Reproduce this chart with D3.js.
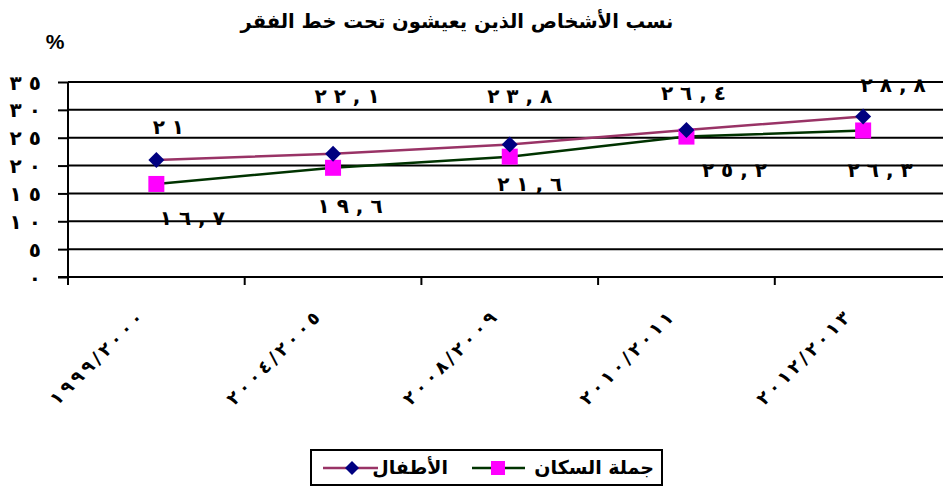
<!DOCTYPE html>
<html>
<head>
<meta charset="utf-8">
<script src="https://cdn.jsdelivr.net/npm/d3@7"></script>
<style>
  html, body { margin: 0; padding: 0; background: #fff; }
  svg { display: block; }
  text { font-family: "DejaVu Sans", sans-serif; font-weight: bold; fill: #000; }
  .num { direction: ltr; unicode-bidi: bidi-override; }
</style>
</head>
<body>
<svg id="chart" width="943" height="487"></svg>
<script>
// ---- data ----
const title = "نسب الأشخاص الذين يعيشون تحت خط الفقر";
const categories = ["1999/2000", "2004/2005", "2008/2009", "2010/2011", "2012/2013"];
const seriesNames = ["الأطفال", "جملة السكان"];
const children = [21, 22.1, 23.8, 26.4, 28.8];
const population = [16.7, 19.6, 21.6, 25.2, 26.3];
const yTicks = [0, 5, 10, 15, 20, 25, 30, 35];

// label nudges (layout only, in px)
const childLabelDx = [12, 14, 10, 7, 30];
const childLabelDy = [-32, -56, -47, -35, -30];
const popLabelDx = [36, 17, 20, 48, 17];
const popLabelDy = [36, 40, 29, 35, 41];

const toArabic = s => String(s).replace(/[0-9]/g, d => "٠١٢٣٤٥٦٧٨٩"[+d]);
const spaced = (s, sep) => Array.from(s).join(sep);
const fmtVal = v => spaced(toArabic(String(v).replace(".", ",")), " ");

(function () {
const svg = d3.select("#chart");
const pLeft = 68, pTop = 82, pBottom = 277, step = 176.7;
const x = d3.scaleBand().domain(categories).range([pLeft, pLeft + step * categories.length]).padding(0);
const y = d3.scaleLinear().domain([0, 35]).range([pBottom, pTop]);
const cx = c => x(c) + x.bandwidth() / 2;

// title & unit
svg.append("text").attr("x", 457).attr("y", 28).attr("text-anchor", "middle")
  .attr("font-size", 19.5).attr("direction", "rtl").text(title);
svg.append("text").attr("x", 55).attr("y", 49).attr("text-anchor", "middle")
  .attr("font-size", 21).style("font-family", "Liberation Sans, Arial, sans-serif").text("%");

// gridlines
svg.append("g").selectAll("line").data(yTicks.filter(t => t > 0)).join("line")
  .attr("x1", pLeft).attr("x2", 943).attr("y1", d => y(d)).attr("y2", d => y(d))
  .attr("stroke", "#000").attr("stroke-width", 2);

// y axis
const yAxis = d3.axisLeft(y).tickValues(yTicks).tickSize(10).tickPadding(17)
  .tickFormat(d => spaced(toArabic(d), " "));
const gy = svg.append("g").attr("transform", `translate(${pLeft},0)`).call(yAxis);
gy.select(".domain").attr("stroke", "#000").attr("stroke-width", 2).attr("d", `M0,${pTop}V${pBottom + 8}`);
gy.selectAll(".tick line").attr("stroke", "#000").attr("stroke-width", 2);
gy.selectAll(".tick text").attr("class", "num").attr("font-size", 20)
  .style("font-family", "DejaVu Sans").style("font-weight", "bold").attr("dy", "0.35em");

// x axis
const xAxis = d3.axisBottom(x).tickSize(8).tickFormat("");
const gx = svg.append("g").attr("transform", `translate(0,${pBottom})`).call(xAxis);
gx.select(".domain").attr("stroke", "#000").attr("stroke-width", 2)
  .attr("d", `M${pLeft - 10},0H943`);
gx.selectAll(".tick").attr("transform", d => `translate(${x(d)},0)`);
gx.selectAll(".tick line").attr("stroke", "#000").attr("stroke-width", 2);

// rotated category labels
svg.append("g").selectAll("text").data(categories).join("text")
  .attr("class", "num")
  .attr("transform", d => `translate(${cx(d) - 12},${pBottom + 42}) rotate(-45)`)
  .attr("text-anchor", "end").attr("font-size", 18)
  .text(d => spaced(toArabic(d), "\u2009"));

// lines
const line = d3.line().x((d, i) => cx(categories[i])).y(d => y(d));
svg.append("path").datum(population).attr("d", line).attr("fill", "none")
  .attr("stroke", "#003300").attr("stroke-width", 2.5);
svg.append("path").datum(children).attr("d", line).attr("fill", "none")
  .attr("stroke", "#993366").attr("stroke-width", 2.5);

// markers
svg.append("g").selectAll("rect").data(population).join("rect")
  .attr("x", (d, i) => cx(categories[i]) - 8).attr("y", d => y(d) - 8)
  .attr("width", 16).attr("height", 16).attr("fill", "#FF00FF");
svg.append("g").selectAll("path").data(children).join("path")
  .attr("d", (d, i) => { const px = cx(categories[i]), py = y(d); return `M${px},${py-8}L${px+8},${py}L${px},${py+8}L${px-8},${py}Z`; })
  .attr("fill", "#000080");

// data labels
svg.append("g").selectAll("text").data(children).join("text")
  .attr("class", "num")
  .attr("x", (d, i) => cx(categories[i]) + childLabelDx[i]).attr("y", (d, i) => y(d) + childLabelDy[i])
  .attr("text-anchor", "middle").attr("dominant-baseline", "middle")
  .attr("font-size", 20).text(d => fmtVal(d));
svg.append("g").selectAll("text").data(population).join("text")
  .attr("class", "num")
  .attr("x", (d, i) => cx(categories[i]) + popLabelDx[i]).attr("y", (d, i) => y(d) + popLabelDy[i])
  .attr("text-anchor", "middle").attr("dominant-baseline", "middle")
  .attr("font-size", 20).text(d => fmtVal(d));

// legend
const lg = svg.append("g");
lg.append("rect").attr("x", 311).attr("y", 450).attr("width", 351).attr("height", 35)
  .attr("fill", "#fff").attr("stroke", "#000").attr("stroke-width", 2);
const ly = 468;
lg.append("text").attr("x", 654).attr("y", ly).attr("dominant-baseline", "middle")
  .attr("text-anchor", "start").attr("direction", "rtl").attr("font-size", 19).text(seriesNames[1]);
lg.append("line").attr("x1", 472).attr("x2", 525).attr("y1", ly).attr("y2", ly)
  .attr("stroke", "#003300").attr("stroke-width", 2.5);
lg.append("rect").attr("x", 491).attr("y", ly - 7).attr("width", 14).attr("height", 14).attr("fill", "#FF00FF");
lg.append("text").attr("x", 448).attr("y", ly).attr("dominant-baseline", "middle")
  .attr("text-anchor", "start").attr("direction", "rtl").attr("font-size", 19).text(seriesNames[0]);
lg.append("line").attr("x1", 323).attr("x2", 378).attr("y1", ly).attr("y2", ly)
  .attr("stroke", "#993366").attr("stroke-width", 2.5);
lg.append("path").attr("d", `M352,${ly-7}L359,${ly}L352,${ly+7}L345,${ly}Z`).attr("fill", "#000080");
})();
</script>
</body>
</html>
